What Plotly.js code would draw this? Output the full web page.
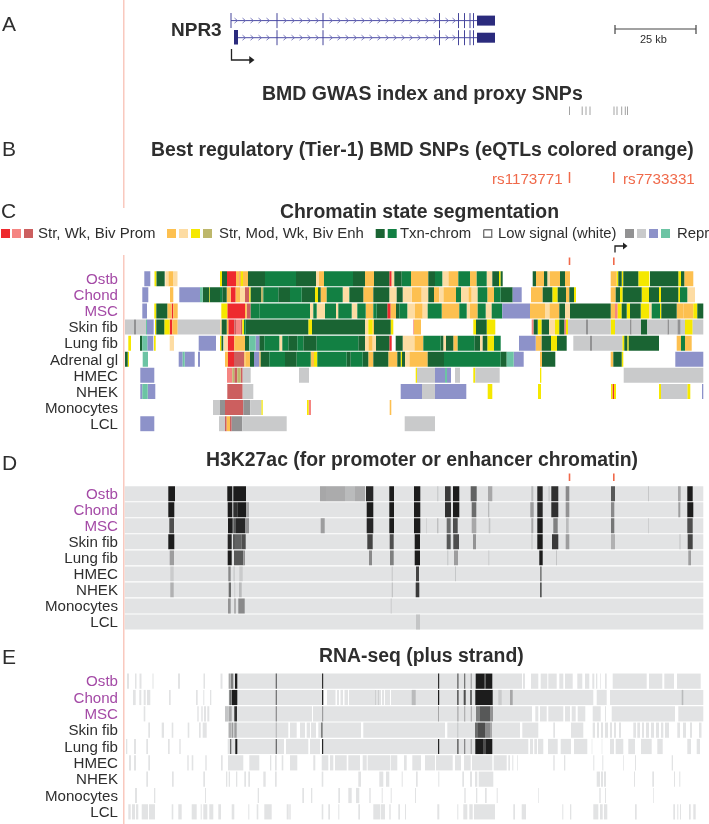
<!DOCTYPE html>
<html><head><meta charset="utf-8">
<script src="https://cdn.plot.ly/plotly-3.0.1.min.js"></script>
<style>html,body{margin:0;padding:0;background:#fff;overflow:hidden}#g{width:709px;height:824px;filter:blur(0.45px)}</style>
</head><body><div id="g"></div>
<script>
// Track positions are browser-track coordinates (1 unit = 25/81 kb).
const stemRows = ["Ostb","Chond","MSC"];
const chromRowNames = ["Ostb","Chond","MSC","Skin fib","Lung fib","Adrenal gl","HMEC","NHEK","Monocytes","LCL"];
const sigRowNames = ["Ostb","Chond","MSC","Skin fib","Lung fib","HMEC","NHEK","Monocytes","LCL"];

// chromatin states: R strong prom, S weak prom, D biv prom, O strong enh, M mod enh, Y weak enh, K biv enh,
// T dark txn, G green txn, H het gray, L low gray, P periwinkle, A teal
const stateColors = {R:"#ee2a2e",S:"#f58582",D:"#cc5f5f",O:"#fdc050",M:"#fddca3",Y:"#f5e800",K:"#bdb76b",T:"#1a6433",G:"#128043",H:"#929293",L:"#c9cacb",P:"#8d92c9",A:"#6cc4a4"};

const chromOstb = [[144.3,150.3,"P"],[154.5,156.5,"Y"],[156.5,164.7,"T"],[165.3,168.3,"M"],[168.3,173,"O"],[173,177.5,"M"],[220,222,"Y"],[222,227,"T"],[227,236,"R"],[236,239.5,"O"],[239.5,240.5,"R"],[240.5,243,"Y"],[243,248,"O"],[248,265,"T"],[265,296,"G"],[296,316,"T"],[316,319,"M"],[319,324,"O"],[324,353,"G"],[353,365,"T"],[365,374,"O"],[374,389.3,"T"],[389.3,391.7,"R"],[391.7,394.3,"M"],[394.3,401.7,"T"],[401.7,411,"G"],[411,421,"O"],[421,428.3,"O"],[428.3,435,"T"],[435,442.3,"G"],[442.3,448.3,"M"],[448.3,458.3,"O"],[458.3,470,"G"],[470,476.7,"O"],[476.7,486.7,"G"],[486.7,492.3,"M"],[492.3,499,"T"],[499,500.7,"Y"],[500.7,502.7,"T"],[532.7,536,"T"],[536,544,"O"],[544,547.3,"T"],[547.3,550,"M"],[550,560,"O"],[560,565,"T"],[565,570,"O"],[610.7,616.7,"O"],[616.7,618.3,"Y"],[618.3,621.7,"T"],[621.7,623.3,"Y"],[623.3,638.3,"T"],[638.3,649.3,"Y"],[650,678.3,"T"],[678.3,681,"Y"],[681,684.3,"T"],[684.3,693.3,"O"]];
const chromChond = [[142.3,148.3,"P"],[170,173.3,"O"],[179.3,200,"P"],[200,202.7,"A"],[202.7,209.3,"T"],[209.3,210,"Y"],[210,220,"T"],[220,222.3,"G"],[222.3,226.7,"T"],[226.7,230.7,"O"],[230.7,235.7,"R"],[235.7,240,"O"],[240,245,"M"],[245,249.3,"D"],[249.3,250.7,"Y"],[250.7,261,"T"],[261,263.3,"K"],[263.3,278.3,"G"],[278.3,290,"T"],[290,301.7,"G"],[301.7,315,"T"],[315,318,"Y"],[318,320.7,"T"],[320.7,326.7,"O"],[326.7,342.7,"G"],[342.7,349.3,"M"],[349.3,350,"G"],[350,363.3,"T"],[363.3,373.3,"O"],[373.3,389.3,"T"],[389.3,396.7,"M"],[396.7,402.7,"T"],[402.7,411.7,"M"],[411.7,421.7,"O"],[421.7,428.3,"M"],[428.3,434,"T"],[434,439.3,"O"],[439.3,443.3,"M"],[443.3,456,"O"],[456,461,"G"],[461,468.3,"M"],[468.3,471.7,"O"],[471.7,477.7,"M"],[477.7,487.3,"G"],[487.3,494,"O"],[494,500.7,"G"],[500.7,512.7,"T"],[512.7,521.7,"P"],[531,542.7,"O"],[542.7,552.3,"T"],[552.3,557.7,"Y"],[557.7,566,"T"],[566,569.3,"O"],[569.3,574,"T"],[574,576,"Y"],[610.7,615.7,"O"],[615.7,620,"T"],[620,622.7,"Y"],[622.7,641.7,"T"],[641.7,649,"Y"],[649,659,"T"],[659,661,"Y"],[661,678.3,"T"],[678.3,680,"Y"],[680,687.3,"G"],[687.3,695,"M"]];
const chromMSC = [[142.3,147,"P"],[154.3,156.3,"Y"],[156.3,167.3,"T"],[167.3,171.7,"O"],[171.7,173.3,"R"],[173.3,177.7,"O"],[221.3,227.3,"Y"],[227.3,245,"R"],[245,246.7,"O"],[246.7,250.7,"D"],[250.7,259.3,"G"],[259.3,310,"G"],[310,313.3,"M"],[313.3,316.7,"G"],[316.7,325,"M"],[325,336,"G"],[336,338.3,"M"],[338.3,351.7,"G"],[351.7,357.3,"M"],[357.3,365.7,"G"],[365.7,373.3,"O"],[373.3,376.7,"G"],[376.7,387.3,"T"],[387.3,390.7,"R"],[390.7,396,"O"],[396,399.3,"T"],[399.3,407.3,"G"],[407.3,415,"M"],[415,422.7,"O"],[422.7,427.7,"M"],[427.7,441.7,"G"],[441.7,459.3,"O"],[459.3,466.7,"G"],[466.7,470,"M"],[470,477.7,"O"],[477.7,485.7,"G"],[485.7,491.7,"M"],[491.7,502.3,"G"],[502.3,530,"P"],[530,545,"O"],[545,549.3,"M"],[549.3,559.3,"O"],[559.3,565,"T"],[565,570,"M"],[570,610.7,"T"],[610.7,615,"O"],[615,617.7,"S"],[617.7,621.7,"Y"],[621.7,626.7,"T"],[626.7,630,"Y"],[630,640.7,"T"],[640.7,649,"Y"],[649,651.7,"M"],[651.7,660,"G"],[660,661.3,"Y"],[661.3,676.7,"T"],[676.7,683.3,"O"],[683.3,693.3,"O"],[693.3,697.3,"Y"],[697.3,703.3,"T"]];
const chromSkin = [[125,134,"L"],[134,136,"H"],[136,146,"L"],[146,147,"A"],[147,153.7,"P"],[155,156.3,"Y"],[156.3,164.3,"T"],[164.3,169.7,"Y"],[169.7,172.3,"R"],[172.3,177.7,"O"],[177.7,220,"L"],[220,221.7,"M"],[221.7,226.7,"T"],[226.7,228.3,"O"],[228.3,234.3,"R"],[234.3,236,"D"],[236,240.7,"S"],[240.7,242.3,"D"],[242.3,244,"Y"],[244,245.7,"G"],[245.7,308.3,"T"],[308.3,312,"Y"],[312,365,"T"],[365,368.3,"M"],[368.3,372.7,"Y"],[372.7,374,"O"],[374,390.7,"T"],[390.7,393.3,"Y"],[413.3,414,"S"],[414,421,"O"],[473.3,476,"Y"],[476,486.7,"T"],[486.7,495.3,"Y"],[531.7,533.7,"S"],[533.7,537.7,"T"],[537.7,541.7,"Y"],[541.7,549,"T"],[549,555,"M"],[555,559.3,"Y"],[559.3,564.3,"T"],[564.3,566,"S"],[566,568,"Y"],[568,586,"L"],[586,588,"H"],[588,610.7,"L"],[610.7,615,"Y"],[615,630,"L"],[630,631.7,"H"],[631.7,641,"L"],[641,647.3,"T"],[647.3,667.3,"L"],[667.3,669,"H"],[669,677.3,"L"],[677.3,680.7,"H"],[680.7,685,"L"],[685,692.7,"Y"],[692.7,703.3,"L"]];
const chromLung = [[128.3,131,"Y"],[140,142.3,"T"],[142.3,147.3,"A"],[147.3,153.3,"P"],[154,155.7,"Y"],[169.7,174,"M"],[198.7,216,"P"],[220,221.5,"Y"],[221.5,223.3,"T"],[224,227.7,"M"],[227.7,234.3,"R"],[234.3,245,"O"],[245,249.3,"T"],[249.3,255.7,"A"],[255.7,259.3,"P"],[259.3,264.3,"T"],[264.3,279.3,"G"],[279.3,282.3,"M"],[282.3,288.3,"G"],[288.3,297.3,"T"],[297.3,303.3,"G"],[303.3,316.7,"T"],[316.7,358.3,"G"],[358.3,365,"T"],[365,368.3,"M"],[368.3,372.7,"O"],[372.7,376,"M"],[376,389.3,"T"],[389.3,391.7,"R"],[395.7,402.7,"T"],[402.7,414.3,"M"],[414.3,423.3,"O"],[423.3,440.7,"G"],[440.7,443.3,"T"],[443.3,446,"M"],[446,453.3,"T"],[453.3,457.7,"O"],[457.7,474.3,"G"],[474.3,480,"T"],[480,482.7,"M"],[482.7,487.3,"T"],[487.3,494,"Y"],[494,500.7,"G"],[519,535.7,"P"],[535.7,541.7,"O"],[541.7,551,"T"],[551,557,"Y"],[557,566.7,"T"],[573.3,590,"L"],[590,592,"H"],[592,622.3,"L"],[622.3,624.3,"Y"],[624.3,627.3,"T"],[627.3,628.7,"Y"],[628.7,659,"T"],[676.7,681,"O"],[681,685,"G"],[685,691.7,"O"]];
const chromAdrenal = [[125,127.7,"T"],[127.7,129,"Y"],[142.7,148,"A"],[178.7,182.7,"P"],[182.7,184.7,"A"],[184.7,194.7,"P"],[198,200,"P"],[225,228,"O"],[228,234,"R"],[234,244.3,"D"],[244.3,245.7,"O"],[245.7,250,"O"],[250,254,"T"],[254,259.3,"P"],[259.3,260.7,"O"],[260.7,269.3,"T"],[269.3,285,"G"],[285,296.7,"T"],[296.7,310.7,"G"],[310.7,314,"O"],[314,317.3,"Y"],[317.3,346.7,"G"],[346.7,350.7,"T"],[350.7,362.7,"G"],[362.7,368.3,"T"],[368.3,373.3,"O"],[373.3,388.3,"T"],[388.3,397.3,"O"],[397.3,400.7,"T"],[400.7,402,"Y"],[402,405,"T"],[405,409.3,"M"],[409.3,427.7,"O"],[427.7,444,"T"],[444,500.7,"G"],[500.7,506.7,"T"],[506.7,513.7,"A"],[513.7,523.7,"P"],[540,542,"O"],[542,555.3,"T"],[610.7,613.3,"O"],[613.3,621.7,"T"],[621.7,623.3,"Y"],[675.3,703.3,"P"]];
const chromHMEC = [[140.3,154.3,"P"],[227,232.3,"S"],[232.3,234.3,"K"],[234.3,237.3,"D"],[237.3,240.7,"K"],[240.7,242.7,"D"],[242.7,250.7,"L"],[299,309,"L"],[415.7,417,"Y"],[417,435,"L"],[435,445,"P"],[445,447,"A"],[447,451,"P"],[455,460,"L"],[473.3,475.3,"Y"],[475.3,499.7,"L"],[540,541.3,"Y"],[623.7,703.3,"L"]];
const chromNHEK = [[140.3,142.3,"P"],[142.3,147.7,"A"],[147.7,155.3,"P"],[227.3,242.7,"D"],[242.7,253.3,"L"],[400.7,422,"P"],[422,435,"L"],[435,466.3,"P"],[487.7,492.3,"Y"],[538,541,"Y"],[611,612.5,"Y"],[612.5,614,"R"],[614,616,"Y"],[659,661,"Y"],[661,687.3,"L"],[687.3,690.3,"Y"],[702,703.3,"P"]];
const chromMono = [[213,220,"L"],[220,225,"H"],[225,243.3,"D"],[243.3,250.3,"H"],[250.3,261.3,"L"],[261.3,262.7,"Y"],[307,308.7,"Y"],[308.7,311,"S"],[389.7,391.3,"O"]];
const chromLCL = [[140.3,154.3,"P"],[219,225,"L"],[225,226.7,"D"],[226.7,230,"O"],[230,231.7,"D"],[231.7,242.3,"H"],[242.3,286.7,"L"],[404.7,435,"L"]];
const chromRows = [chromOstb,chromChond,chromMSC,chromSkin,chromLung,chromAdrenal,chromHMEC,chromNHEK,chromMono,chromLCL];

// H3K27ac peaks: [start, end, signal 0..1]
const acOstb = [[168.3,175,1],[227.3,232.3,1],[233.3,246,1],[320,326,.3],[326,345,.28],[345,355,.2],[355,365,.28],[366,373.3,.95],[389.3,394,1],[414,420.3,1],[437.3,438.3,.15],[445,450.7,.85],[453,459.3,1],[470.7,476.7,.65],[488,492.3,.3],[531.3,533.3,.2],[537.3,542.7,.95],[548.3,550,.1],[551.3,558.3,.9],[565.7,569.3,.45],[611,615,.7],[648,648.7,.2],[678,680.7,.3],[687.3,692.7,1]];
const acChond = [[168.3,174.3,1],[227.7,232.3,1],[233.3,237.3,.9],[237.3,246,1],[246,249,.3],[366.7,373.3,1],[389.3,394,1],[414,420.3,1],[445,451,.9],[453,459.3,1],[471.7,476.3,.6],[488,489.3,.2],[530.3,533.7,.35],[537.3,542.7,.95],[551.3,558.3,.9],[565.7,569.3,.4],[611,614.3,.45],[678.3,680.3,.35],[687.3,693.3,1]];
const acMSC = [[169.3,174,.75],[228,232.7,1],[233.3,236,.7],[236,245,.95],[245,249,.4],[320.7,324.7,.35],[366.7,373.3,.95],[389.3,394,1],[414,420.3,1],[426,426.7,.12],[437.3,438.3,.25],[446.7,450.7,.6],[453,457.7,.75],[471.7,476.3,.3],[488.7,490.3,.15],[531.3,533.3,.3],[537.3,542.7,1],[553.3,557.7,.5],[566,568.7,.2],[611,614.3,.55],[648,648.7,.15],[687.3,692.7,.75]];
const acSkin = [[168.3,174.3,1],[227.7,231.7,.95],[233,235,.7],[235,241.7,.65],[241.7,245.7,.75],[367.3,372.7,.8],[389.7,393.7,.75],[414.7,420,1],[446.7,450.7,.7],[453.3,459,.75],[473,476,.4],[531.3,532.7,.12],[537.3,542.7,1],[552,558.3,.85],[565.7,569.3,.35],[611,615,.25],[679.3,680.7,.12],[687.7,692.7,.8]];
const acLung = [[169.7,174,.35],[227.7,231.7,1],[234,243.3,.7],[243.3,245,.4],[369,372,.45],[390,393.7,.5],[414.7,420,1],[447.3,448.3,.15],[454,458,.35],[488.3,489.3,.12],[539.3,542.7,1],[556,557,.15],[688.3,691,.35]];
const acHMEC = [[170.3,173.7,.12],[228.3,230.7,.45],[233.3,235,.1],[239.3,242.7,.12],[391.7,392.7,.15],[416,419,.8],[455.3,456,.2],[540,541.7,.5]];
const acNHEK = [[170.3,173.7,.25],[228.7,231,.6],[234,235.3,.08],[239,241.7,.2],[391.7,393,.15],[415.7,419.3,.85],[540,541.7,.7]];
const acMono = [[228,230.7,.4],[234,236,.25],[238.3,244.7,.45],[390.7,391.7,.12]];
const acLCL = [[416,420,.15]];
const acRows = [acOstb,acChond,acMSC,acSkin,acLung,acHMEC,acNHEK,acMono,acLCL];

// RNA-seq: low-signal covered intervals
const rnaBgOstb = [[127,129],[135,136.5],[139.5,141.5],[152.5,153.5],[178,180],[203.5,205],[220.5,222.5],[228.7,522],[523,525],[531,538.3],[540.7,547.3],[548.3,556.7],[559.3,563.3],[565,572.7],[577.3,582.3],[585,589.3],[592.3,594.3],[596,597.3],[600,600.7],[605,606.7],[612.7,646.7],[649,662.3],[664.3,674],[677,700.7]];
const rnaBgChond = [[133,135.7],[139.3,141.3],[143.7,145.7],[147,150.3],[169,170.7],[196,197.7],[203.3,204.3],[210,211.3],[228.7,324],[327,335.5],[337,339],[340.5,343],[344.5,348],[349,375],[376,378],[379,381],[382,384],[385,390],[391,593.3],[596.7,606.7],[610,703.3]];
const rnaBgMSC = [[143.7,145.3],[197.3,198.7],[201.3,202.7],[204,206],[207.3,209.3],[225,312],[313,532],[535.3,538.3],[540,546.7],[548.3,563.3],[565,570],[571.7,575.7],[577.7,585.3],[592.7,600.7],[605,606],[611.7,675],[678.3,703.3]];
const rnaBgSkin = [[148.3,150],[161.7,164],[171.7,173.3],[187.7,189.3],[199,200.7],[202.7,206.7],[228.3,288.3],[290,296.7],[300,305],[306.7,310],[311,316],[318.3,361],[363.3,445],[447.3,520],[522.3,538.3],[553.3,555],[571,583.3],[592.7,595],[597,599],[601,603],[605,608],[610,612],[614,616],[619,621],[633.3,636],[637.3,640],[642,644],[646,649],[651,654],[656,659],[661,663.3],[665,669],[677.3,680],[683,686],[690,692],[699,701.5]];
const rnaBgLung = [[126,127.3],[134,136],[146.3,148],[168,169.7],[179.3,180.7],[227.7,284],[286,308.3],[310,320],[321.7,528.3],[530,533],[534.3,537],[538,543.3],[548,557.7],[560.7,571],[574,587.3],[591.7,592.3],[601.7,602.3],[610,614],[615.7,623.3],[628.3,635],[641,651.7],[657.3,662.7],[687.3,691],[696.7,700]];
const rnaBgHMEC = [[129,131],[134,136],[148.3,150],[187.3,188.7],[191.7,193.3],[205.3,206.7],[221,222.7],[228,243.3],[249.3,259.3],[270,271.3],[275,276.7],[281.7,283.3],[290,297.3],[313.3,315.3],[321.7,328.3],[330,333.3],[335,346.7],[348.3,360],[362.7,366.7],[367.7,390],[390.7,397.3],[404,406.7],[412.3,421],[425,435],[436,452.7],[455,461],[464,470.7],[472,492.3],[493.7,506.7],[508.3,510],[512.3,513.3],[517.3,518],[553.3,554.7],[564,565.3],[593.3,594.3],[602.3,603.3],[623.3,624],[635,636],[671.7,673]];
const rnaBgNHEK = [[146.3,148],[172,173.7],[203.3,205],[226,227.3],[228.7,230],[236,237.3],[244.3,246],[248.3,250],[263.3,265.7],[275,276.7],[321.7,323.3],[358.3,361],[379.3,383.3],[386,389.3],[401.7,402.7],[416,417.7],[438.3,439.3],[462.3,464],[470,472],[475,477.3],[478.7,493.3],[596.7,600],[601,603],[604,606],[634,635],[652.3,654],[674,675],[679.3,680.3]];
const rnaBgMono = [[135,137],[154,155.3],[205,206],[257.7,259],[302.3,304],[311,312.3],[338.3,340],[348.3,351.7],[356,359.3],[369.3,370.7],[381.7,382.7],[390.7,391.7],[415,416],[464.3,465.7],[476,477.3],[485,486.7],[496.7,497.7],[538.3,539],[599.3,600.7],[605,606],[653.3,654]];
const rnaBgLCL = [[128.3,130.7],[132,135],[136,138.3],[141.7,148],[149,155],[171.7,173.3],[178.3,181.7],[191.7,196.7],[200.7,201.7],[203.3,207.3],[209.3,213.3],[218.3,221],[231.7,234.3],[248.3,249.3],[256.7,258.3],[264.3,271.7],[286.7,288.7],[289.3,290.7],[321.7,323.3],[328.3,330],[338.3,339.3],[358.3,360],[373.3,380],[380.7,385],[389.3,390.7],[398.3,400],[405,406],[437.3,439.3],[457.3,458.3],[463.3,467.3],[469.3,472.7],[474,495],[513.3,515],[521.7,526],[562.3,563.3],[570,571.3],[593.3,598.3],[600,602.7],[604,607.3],[635,636.7],[673.3,675],[677.3,678.3],[680,681],[689,690.7],[693.3,695.7]];
const rnaBgRows = [rnaBgOstb,rnaBgChond,rnaBgMSC,rnaBgSkin,rnaBgLung,rnaBgHMEC,rnaBgNHEK,rnaBgMono,rnaBgLCL];

// RNA-seq: higher-signal exonic intervals [start, end, signal 0..1]
const rnaHiOstb = [[228.7,230.7,.3],[231,233.3,.5],[235,237.3,1],[275.7,276.9,.65],[322,323.2,.9],[438,439.2,.9],[457.3,458.5,.7],[464,465.3,.55],[470.7,471.7,.4],[475.7,484,1],[484,485.7,.7],[485.7,492.3,1]];
const rnaHiChond = [[229.3,231.3,.6],[231.7,237.3,1],[275.7,276.9,.6],[322,323.2,.95],[375,376,.1],[378,379,.1],[411.7,415.7,.2],[438,439.2,1],[457.3,458.5,.9],[463.7,465.7,.75],[470,472,.6],[475.3,492.7,1],[498.3,501.7,.12],[510,512.7,.3],[681.7,683.3,.2]];
const rnaHiMSC = [[225,228.3,.15],[228.7,231.7,.3],[234.3,237,.9],[275.7,276.9,.45],[322,323.2,.35],[438,439,.3],[457.3,458.5,.3],[464,465.3,.25],[470.7,472,.25],[476,480,.5],[480,490,.7],[490,493,.4]];
const rnaHiSkin = [[228.7,231.3,.25],[231.7,233.3,.35],[234.3,236.7,.35],[275.7,276.9,.2],[321,322.7,.5],[457.3,458.3,.15],[475,478,.6],[478,485,.75],[485,490,.45],[490,492,.3]];
const rnaHiLung = [[230,231.3,.6],[235.3,237.3,1],[275.7,276.9,.65],[322,323.2,.95],[438,439.2,.95],[457.3,458.5,.8],[464,465.3,.45],[470.7,471.7,.35],[475.3,483,1],[483,486,.75],[486,492.3,1]];
const rnaHiRows = [rnaHiOstb,rnaHiChond,rnaHiMSC,rnaHiSkin,rnaHiLung,[],[],[],[]];

// Panels A and B
const transcriptRows = [20.6, 37.7];
const exonPositions = [277, 323, 439.5, 458.5, 464.5, 470, 473.5];
const chevronPositions = [236,244,252,260,268,285,293,301,309,317,331,339,347,355,363,371,379,387,395,403,411,419,427,435,447,454];
const gwasSnps = [569.5,582.2,586,590,614,617,621.7,625.3,627.5];
const tier1Snps = [569.5,613.8];

const DARK="#2e2e2e", PURPLE="#a44aa6", ORANGE="#f0694a", PINK="#f8c0b4", NAVY="#2b2b7d", BGGRAY="#e2e3e4";
const W=709,H=824;
const dom=(a,b)=>[1-b/H,1-a/H];
function gray(v){const lo=[226,227,228],hi=[28,28,28];const c=lo.map((l,i)=>Math.round(l+(hi[i]-l)*v));return `rgb(${c[0]},${c[1]},${c[2]})`;}
function barTrace(rows,names,yaxis,color){
  const x=[],base=[],y=[],col=[];
  rows.forEach((r,i)=>r.forEach(s=>{base.push(s[0]);x.push(s[1]-s[0]);y.push(names[i]);if(s.length>2)col.push(gray(s[2]));}));
  return {type:"bar",orientation:"h",x,base,y,width:0.93,yaxis,xaxis:"x",marker:{color:color||col,line:{width:0}},hoverinfo:"skip",showlegend:false};
}
const traces=[];
Object.keys(stateColors).forEach(k=>{
  traces.push(barTrace(chromRows.map(r=>r.filter(s=>s[2]===k).map(s=>[s[0],s[1]])),chromRowNames,"y",stateColors[k]));
});
traces.push(barTrace(sigRowNames.map(()=>[[124.7,703.3]]),sigRowNames,"y2",BGGRAY));
traces.push(barTrace(acRows,sigRowNames,"y2"));
traces.push(barTrace(rnaBgRows,sigRowNames,"y3",BGGRAY));
traces.push(barTrace(rnaHiRows,sigRowNames,"y3"));

function line(xs,ys,color,width){return {type:"scatter",mode:"lines",x:xs,y:ys,yaxis:"y4",xaxis:"x",line:{color,width},hoverinfo:"skip",showlegend:false,connectgaps:false};}
function ticks(px,y0,y1,color,width){const xs=[],ys=[];px.forEach(p=>{xs.push(p,p,null);ys.push(y0,y1,null);});return line(xs,ys,color,width);}
function fill(x0,x1,y0,y1,color){return {type:"scatter",mode:"lines",x:[x0,x1,x1,x0,x0],y:[y0,y0,y1,y1,y0],fill:"toself",fillcolor:color,line:{width:0,color},yaxis:"y4",xaxis:"x",hoverinfo:"skip",showlegend:false};}
traces.push(line([123.8,123.8,null,123.8,123.8],[0,208,null,255,824],PINK,1.3));
transcriptRows.forEach((yc,i)=>{
  traces.push(line([i?234:231,477],[yc,yc],"#4d4da6",1));
  const cx=[],cy=[];
  chevronPositions.forEach(p=>{cx.push(p-1.5,p+1.5,p-1.5,null);cy.push(yc-2.5,yc,yc+2.5,null);});
  traces.push(line(cx,cy,"#6c6cb6",0.9));
  traces.push(ticks(exonPositions,yc-7.5,yc+7.5,"#45459a",1));
  traces.push(fill(477,495,yc-5,yc+5,NAVY));
});
traces.push(ticks([231],13,28,"#45459a",1));
traces.push(fill(234,238,30,44.5,NAVY));
// TSS arrows
traces.push(line([231.5,231.5,250],[49,60,60],"#222",1.3));
traces.push({type:"scatter",mode:"markers",x:[251],y:[60],yaxis:"y4",xaxis:"x",marker:{symbol:"triangle-right",size:7,color:"#222"},hoverinfo:"skip",showlegend:false});
traces.push(line([615,615,623],[252.5,246,246],"#222",1.3));
traces.push({type:"scatter",mode:"markers",x:[624.5],y:[246],yaxis:"y4",xaxis:"x",marker:{symbol:"triangle-right",size:6,color:"#222"},hoverinfo:"skip",showlegend:false});
// scale bar
traces.push(line([615,696],[29,29],"#444",1.2));
traces.push(ticks([615,696],25,34,"#444",1.2));
// SNP ticks
traces.push(ticks(gwasSnps,106.5,115,"#a3a3a3",1));
traces.push(ticks(tier1Snps,172,183,ORANGE,1.5));
traces.push(ticks(tier1Snps,257.5,265,ORANGE,1.6));
traces.push(ticks(tier1Snps,473.5,481,ORANGE,1.6));
// legend swatches
const legendSwatches=[[1,"R"],[12,"S"],[24,"D"],[167,"O"],[179,"M"],[191,"Y"],[203,"K"],[375.7,"T"],[387.7,"G"],[625,"H"],[637,"L"],[649,"P"],[661,"A"]];
legendSwatches.forEach(s=>traces.push(fill(s[0],s[0]+9,229,238,stateColors[s[1]])));
traces.push({type:"scatter",mode:"lines",x:[483.7,491.7,491.7,483.7,483.7],y:[229.7,229.7,237.3,237.3,229.7],line:{color:"#777",width:1.4},yaxis:"y4",xaxis:"x",hoverinfo:"skip",showlegend:false});

const FONT="Liberation Sans, Arial, sans-serif";
function ann(text,x,y,size,opt){opt=opt||{};return {text:opt.b?`<b>${text}</b>`:text,xref:"paper",yref:"paper",x:x/W,y:1-y/H,xanchor:opt.a||"left",yanchor:"middle",showarrow:false,font:{family:FONT,size,color:opt.c||DARK},borderpad:0,align:opt.a||"left"};}
const annotations=[
 ann("A",1,23,21),ann("B",1,148,21),ann("C",0,210,21),ann("D",1,462,21),ann("E",1,656,21),
 ann("NPR3",196.5,30,19,{a:"center",b:1}),
 ann("25 kb",653,39,11,{a:"center"}),
 ann("BMD GWAS index and proxy SNPs",422.5,93.5,19.5,{a:"center",b:1}),
 ann("Best regulatory (Tier-1) BMD SNPs (eQTLs colored orange)",422,149,19.4,{a:"center",b:1}),
 ann("rs1173771",563.5,178,15.2,{a:"right",c:ORANGE}),
 ann("rs7733331",622,178,15.2,{c:ORANGE}),
 ann("Chromatin state segmentation",419,211,19.4,{a:"center",b:1}),
 ann("Str, Wk, Biv Prom",37,232.5,15),
 ann("Str, Mod, Wk, Biv Enh",218,232.5,14.9),
 ann("Txn-chrom",399,232.5,14.9),
 ann("Low signal (white)",497,232.5,14.8),
 ann("Repr",676,232.5,14.9),
 ann("H3K27ac (for promoter or enhancer chromatin)",421.5,459,19.4,{a:"center",b:1}),
 ann("RNA-seq (plus strand)",421.5,655,19.4,{a:"center",b:1})
];
function catAxis(names,domain){
  return {type:"category",domain,anchor:"free",position:124/W,categoryorder:"array",categoryarray:names,range:[names.length-0.5,-0.5],
    tickmode:"array",tickvals:names,ticktext:names.map(n=>stemRows.includes(n)?`<span style="color:${PURPLE}">${n}</span>`:n),
    ticks:"",ticklabelstandoff:6,showgrid:false,zeroline:false,showline:false,fixedrange:true,tickfont:{family:FONT,size:15.1,color:DARK}};
}
const layout={width:W,height:H,margin:{l:0,r:0,t:0,b:0,pad:0},paper_bgcolor:"#fff",plot_bgcolor:"rgba(0,0,0,0)",barmode:"overlay",showlegend:false,
  xaxis:{range:[0,W],domain:[0,1],visible:false,fixedrange:true,anchor:"y4"},
  yaxis:catAxis(chromRowNames,dom(270.7,431.7)),
  yaxis2:catAxis(sigRowNames,dom(485.7,630)),
  yaxis3:catAxis(sigRowNames,dom(673,820)),
  yaxis4:{range:[H,0],domain:[0,1],visible:false,fixedrange:true},
  annotations};
Plotly.newPlot("g",traces,layout,{staticPlot:true,displayModeBar:false});
</script></body></html>
